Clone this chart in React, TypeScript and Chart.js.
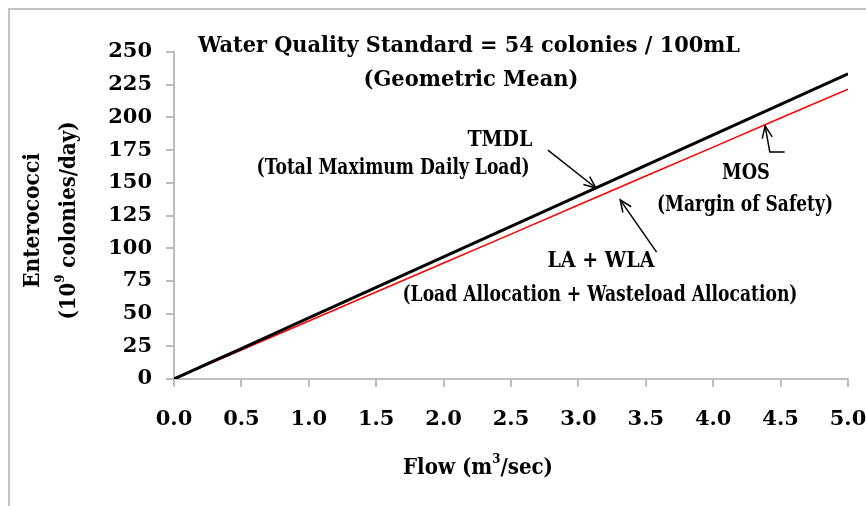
import React, { useEffect, useRef } from "react";
import { Chart, registerables } from "chart.js";
Chart.register(...registerables);

// ---- data ----
const flows = [0, 0.1, 0.25, 0.5, 1, 1.5, 2, 2.5, 3, 3.5, 4, 4.5, 5];
const tmdl = [0, 4.7, 11.7, 23.3, 46.7, 70.0, 93.3, 116.7, 140.0, 163.3, 186.7, 210.0, 233.3];
const laWla = [0, 4.4, 11.1, 22.2, 44.3, 66.5, 88.7, 110.8, 133.0, 155.2, 177.3, 199.5, 221.6];
const xTickValues = [0, 0.5, 1, 1.5, 2, 2.5, 3, 3.5, 4, 4.5, 5];
const yTickValues = [0, 25, 50, 75, 100, 125, 150, 175, 200, 225, 250];

const seriesLabels = ["TMDL", "LA + WLA"];

// annotation anchors (data units) and rendered widths (px)
const notes = [
  { text: "Water Quality Standard = 54 colonies / 100mL", x: 2.188, y: 254.6, w: 542 },
  { text: "(Geometric Mean)", x: 2.203, y: 228.6, w: 215 },
  { text: "TMDL", x: 2.418, y: 182.7, w: 65 },
  { text: "(Total Maximum Daily Load)", x: 1.625, y: 161.3, w: 273 },
  { text: "MOS", x: 4.243, y: 157.5, w: 48 },
  { text: "(Margin of Safety)", x: 4.236, y: 133.0, w: 176 },
  { text: "LA + WLA", x: 3.167, y: 90.2, w: 107 },
  { text: "(Load Allocation + Wasteload Allocation)", x: 3.16, y: 64.2, w: 395 },
];
// arrows: polyline points in data units, arrowhead at first point
const arrows = [
  [ { x: 3.13, y: 146.0 }, { x: 2.774, y: 175.0 } ],
  [ { x: 3.31, y: 137.0 }, { x: 3.58, y: 97.0 } ],
  [ { x: 4.385, y: 193.5 }, { x: 4.42, y: 173.5 }, { x: 4.53, y: 173.5 } ],
];

const TICK_FAMILY = "'DejaVu Serif'";
const NOTE_FONT = "bold 22px 'DejaVu Serif'";
const NOTE_SUP_FONT = "bold 13px 'DejaVu Serif'";
const AXIS_GRAY = "#bdbdbd";

type Piece = { t: string; sup?: boolean };

function drawPieces(ctx: CanvasRenderingContext2D, pieces: Piece[], cx: number, cy: number, targetW: number) {
  let total = 0;
  const widths = pieces.map((p) => {
    ctx.font = p.sup ? NOTE_SUP_FONT : NOTE_FONT;
    const w = ctx.measureText(p.t).width;
    total += w;
    return w;
  });
  const sx = targetW / total;
  ctx.save();
  ctx.translate(cx, cy);
  ctx.scale(sx, 1);
  let x = -total / 2;
  pieces.forEach((p, i) => {
    ctx.font = p.sup ? NOTE_SUP_FONT : NOTE_FONT;
    ctx.textAlign = "left";
    ctx.textBaseline = "middle";
    ctx.fillText(p.t, x, p.sup ? -8 : 0);
    x += widths[i];
  });
  ctx.restore();
}

const annotationPlugin = {
  id: "annotations",
  afterDraw(chart: any) {
    const { ctx, chartArea, scales } = chart;
    const xs = scales.x;
    const ys = scales.y;
    ctx.save();
    ctx.fillStyle = "#000";
    notes.forEach((n) => {
      drawPieces(ctx, [{ t: n.text }], xs.getPixelForValue(n.x), ys.getPixelForValue(n.y), n.w);
    });

    // arrows
    ctx.strokeStyle = "#000";
    ctx.lineWidth = 1.5;
    arrows.forEach((pts) => {
      const p = pts.map((q) => ({ x: xs.getPixelForValue(q.x), y: ys.getPixelForValue(q.y) }));
      ctx.beginPath();
      ctx.moveTo(p[0].x, p[0].y);
      for (let i = 1; i < p.length; i++) ctx.lineTo(p[i].x, p[i].y);
      ctx.stroke();
      const ang = Math.atan2(p[1].y - p[0].y, p[1].x - p[0].x);
      const L = 13;
      const spread = 0.4;
      ctx.beginPath();
      ctx.moveTo(p[0].x + L * Math.cos(ang - spread), p[0].y + L * Math.sin(ang - spread));
      ctx.lineTo(p[0].x, p[0].y);
      ctx.lineTo(p[0].x + L * Math.cos(ang + spread), p[0].y + L * Math.sin(ang + spread));
      ctx.stroke();
    });

    // axis titles
    const midX = (chartArea.left + chartArea.right) / 2;
    drawPieces(ctx, [{ t: "Flow (m" }, { t: "3", sup: true }, { t: "/sec)" }], midX - 33, chartArea.bottom + 89, 150);

    const midY = (chartArea.top + chartArea.bottom) / 2;
    ctx.save();
    ctx.translate(23, midY + 5);
    ctx.rotate(-Math.PI / 2);
    drawPieces(ctx, [{ t: "Enterococci" }], 0, 0, 135);
    ctx.restore();
    ctx.save();
    ctx.translate(59, midY + 5);
    ctx.rotate(-Math.PI / 2);
    drawPieces(ctx, [{ t: "(10" }, { t: "9", sup: true }, { t: " colonies/day)" }], 0, 0, 198);
    ctx.restore();

    ctx.restore();
  },
};

export default function App() {
  const ref = useRef<HTMLCanvasElement | null>(null);
  useEffect(() => {
    if (!ref.current) return;
    const chart = new Chart(ref.current, {
      type: "line",
      data: {
        datasets: [
          {
            label: seriesLabels[0],
            data: flows.map((f, i) => ({ x: f, y: tmdl[i] })),
            borderColor: "#000000",
            borderWidth: 3,
            pointRadius: 0,
            tension: 0,
          },
          {
            label: seriesLabels[1],
            data: flows.map((f, i) => ({ x: f, y: laWla[i] })),
            borderColor: "#ff0000",
            borderWidth: 1.5,
            pointRadius: 0,
            tension: 0,
          },
        ],
      },
      options: {
        animation: false,
        responsive: false,
        layout: { padding: { top: 42, right: 0, left: 0, bottom: 0 } },
        plugins: {
          legend: { display: false },
          tooltip: { enabled: false },
        },
        scales: {
          x: {
            type: "linear",
            min: 0,
            max: 5,
            afterFit: (s: any) => {
              s.height = 127;
              s.paddingLeft = 0;
              s.paddingRight = 18;
            },
            afterBuildTicks: (s: any) => {
              s.ticks = xTickValues.map((v) => ({ value: v }));
            },
            ticks: {
              color: "#000",
              padding: 20,
              maxRotation: 0,
              autoSkip: false,
              font: { family: TICK_FAMILY, size: 21, weight: "bold" },
              callback: (v: any) => Number(v).toFixed(1),
            },
            grid: { drawOnChartArea: false, color: AXIS_GRAY, lineWidth: 2, tickLength: 8 },
            border: { display: true, color: AXIS_GRAY, width: 2 },
          },
          y: {
            type: "linear",
            min: 0,
            max: 250,
            afterFit: (s: any) => {
              s.width = 164;
            },
            afterBuildTicks: (s: any) => {
              s.ticks = yTickValues.map((v) => ({ value: v }));
            },
            ticks: {
              color: "#000",
              padding: 14,
              autoSkip: false,
              font: { family: TICK_FAMILY, size: 21, weight: "bold" },
              callback: (v: any) => String(v),
            },
            grid: { drawOnChartArea: false, color: AXIS_GRAY, lineWidth: 2, tickLength: 8 },
            border: { display: true, color: AXIS_GRAY, width: 2 },
          },
        },
      },
      plugins: [annotationPlugin],
    });
    return () => chart.destroy();
  }, []);

  return (
    <div
      style={{
        position: "fixed",
        left: 8,
        top: 8,
        right: 0,
        bottom: 0,
        borderTop: "2px solid #c4c4c4",
        borderLeft: "2px solid #c4c4c4",
        background: "#fff",
      }}
    >
      <canvas ref={ref} width={856} height={496} style={{ display: "block" }} />
    </div>
  );
}
